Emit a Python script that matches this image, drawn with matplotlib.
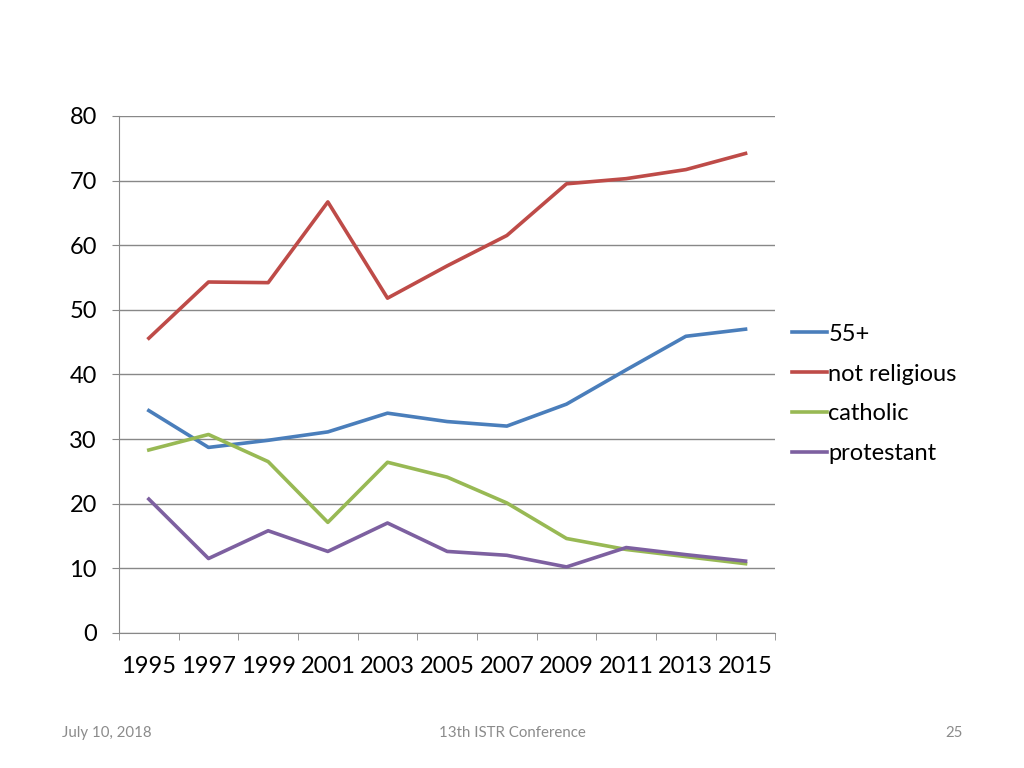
import numpy as np
import matplotlib
matplotlib.use("Agg")
import matplotlib.pyplot as plt

years = ["1995", "1997", "1999", "2001", "2003", "2005", "2007", "2009", "2011", "2013", "2015"]
age55 = [34.4, 28.7, 29.8, 31.1, 34.0, 32.7, 32.0, 35.4, 40.7, 45.9, 47.0]
not_religious = [45.6, 54.3, 54.2, 66.7, 51.8, 56.8, 61.5, 69.5, 70.3, 71.7, 74.2]
catholic = [28.3, 30.7, 26.5, 17.1, 26.4, 24.1, 20.1, 14.6, 12.9, 11.8, 10.7]
protestant = [20.7, 11.5, 15.8, 12.6, 17.0, 12.6, 12.0, 10.2, 13.2, 12.1, 11.1]

plt.rcParams['font.family'] = ['Lato', 'DejaVu Sans']

fig = plt.figure(figsize=(10.24, 7.68), dpi=100)
ax = fig.add_axes([0.1162, 0.176, 0.641, 0.673])

x = np.arange(len(years))
ax.plot(x, age55, color="#4A7EBB", lw=2.6, label="55+")
ax.plot(x, not_religious, color="#BE4B48", lw=2.6, label="not religious")
ax.plot(x, catholic, color="#98B954", lw=2.6, label="catholic")
ax.plot(x, protestant, color="#7D60A0", lw=2.6, label="protestant")

ax.set_xlim(-0.5, len(years) - 0.5)
ax.set_ylim(0, 80)
ax.set_yticks(range(0, 81, 10))
ax.tick_params(axis="y", labelsize=17, length=5, color="#888888", pad=11)
ax.set_xticks(x)
ax.set_xticklabels(years)
ax.set_xticks(np.arange(-0.5, len(years), 1), minor=True)
ax.tick_params(axis="x", which="major", length=0, labelsize=17, pad=17)
ax.tick_params(axis="x", which="minor", length=5, color="#888888")

ax.grid(axis="y", color="#888888", lw=1)
ax.set_axisbelow(True)
for s in ["top", "right"]:
    ax.spines[s].set_visible(False)
ax.spines["left"].set_color("#888888")
ax.spines["bottom"].set_color("#888888")

ax.legend(loc="center left", bbox_to_anchor=(1.0, 0.462), frameon=False,
          fontsize=17, handlelength=1.5, handletextpad=0.05, labelspacing=0.8,
          borderaxespad=0.3)

fig.text(0.061, 0.046, "July 10, 2018", color="#8B8B8B", fontsize=10.8, va="center")
fig.text(0.5, 0.046, "13th ISTR Conference", color="#8B8B8B", fontsize=10.8, va="center", ha="center")
fig.text(0.94, 0.046, "25", color="#8B8B8B", fontsize=10.8, va="center", ha="right")

fig.savefig("out.png", dpi=100)
